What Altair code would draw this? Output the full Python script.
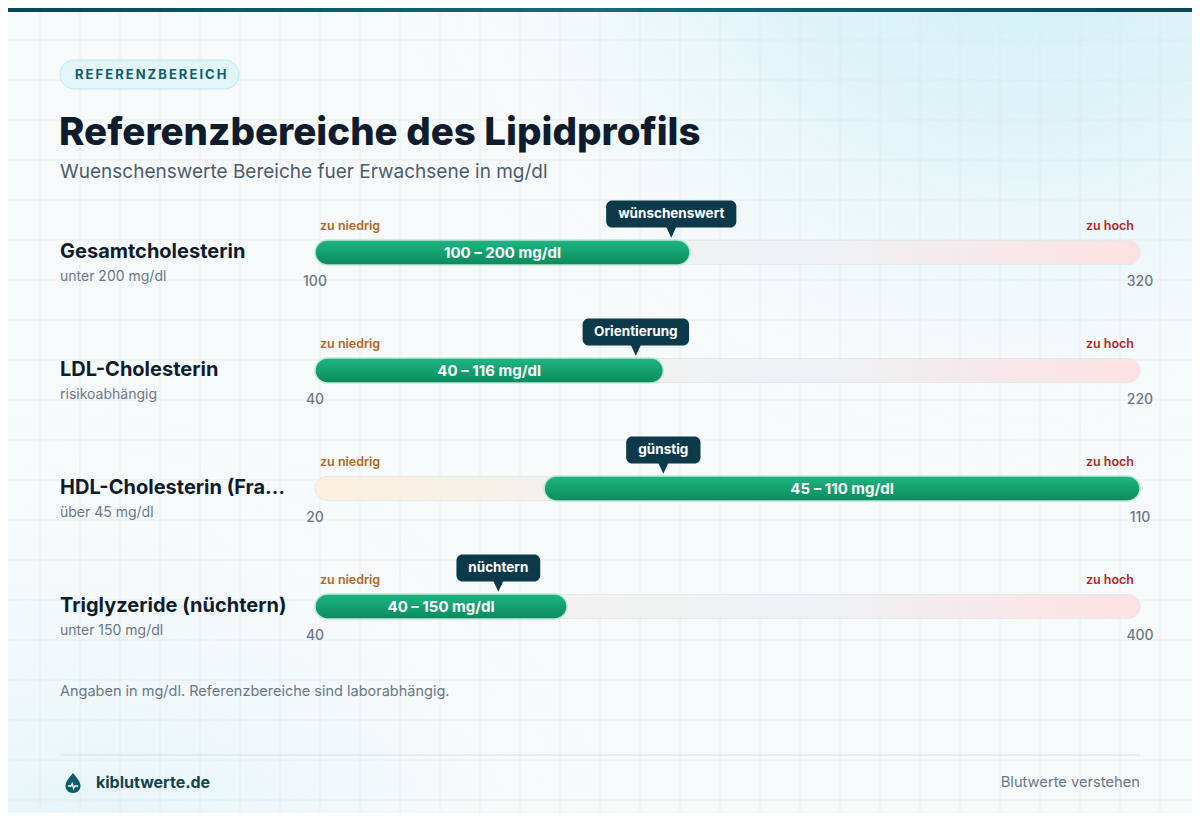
import altair as alt
import pandas as pd

# Werte aus dem Bild
metrics = ["Gesamtcholesterin", "LDL-Cholesterin", "HDL-Cholesterin (Frauen)", "Triglyzeride (nüchtern)"]
notes = ["unter 200 mg/dl", "risikoabhängig", "über 45 mg/dl", "unter 150 mg/dl"]
scale_min = [100, 40, 20, 40]
scale_max = [320, 220, 110, 400]
ok_low = [100, 40, 45, 40]
ok_high = [200, 116, 110, 150]
badges = ["wünschenswert", "Orientierung", "günstig", "nüchtern"]
badge_at = [195, 110, 58, 120]

FONT = "Inter"
W, H = 1184, 805
TRACK = [307, 1132]
TRACK_W = TRACK[1] - TRACK[0]
INK = "#0f1c2e"
MUTED = "#6b7785"
BADGE = "#0d3a4a"


def text_width(s, size):
    w = 0
    for ch in s:
        if ch in "il":
            w += 0.28
        elif ch in "jtfr":
            w += 0.4
        elif ch in "mw":
            w += 0.85
        elif ch.isupper():
            w += 0.72
        else:
            w += 0.58
    return w * size


df = pd.DataFrame({
    "metric": metrics, "note": notes,
    "scale_min": scale_min, "scale_max": scale_max,
    "ok_low": ok_low, "ok_high": ok_high,
    "badge": badges, "badge_at": badge_at,
})
df["badge_w"] = [text_width(b, 13.5) + 26 for b in badges]

rows = alt.Chart(df).transform_calculate(
    span="datum.scale_max - datum.scale_min",
    t_lo="(datum.ok_low - datum.scale_min) / datum.span",
    t_hi="(datum.ok_high - datum.scale_min) / datum.span",
    t_mid="(datum.t_lo + datum.t_hi) / 2",
    t_badge="(datum.badge_at - datum.scale_min) / datum.span",
    bx1=f"datum.t_badge - datum.badge_w / {2 * TRACK_W}",
    bx2=f"datum.t_badge + datum.badge_w / {2 * TRACK_W}",
    t_start="0",
    t_end="1",
    range_label="datum.ok_low + ' – ' + datum.ok_high + ' mg/dl'",
)

xs = alt.Scale(domain=[0, 1], range=TRACK)
ys = alt.Scale(type="point", domain=metrics, range=[244.5, 598.5], padding=0)


def X(f):
    return alt.X(f"{f}:Q", scale=xs, axis=None)


Y = alt.Y("metric:N", scale=ys, axis=None)

one = pd.DataFrame({"k": [0]})


def txt(text, x, y, size, color, weight="normal", align="left", baseline="middle"):
    return alt.Chart(one).mark_text(
        text=text, align=align, baseline=baseline, font=FONT,
        fontSize=size, fontWeight=weight, color=color,
    ).encode(x=alt.value(x), y=alt.value(y))


# Hintergrund
glow_top = alt.Chart(one).mark_rect(
    fill=alt.RadialGradient(
        gradient="radial", x1=0.86, y1=0.0, r1=0, x2=0.86, y2=0.0, r2=0.55,
        stops=[alt.GradientStop(offset=0, color="rgba(190,235,245,1)"),
               alt.GradientStop(offset=0.5, color="rgba(210,241,248,0.6)"),
               alt.GradientStop(offset=1, color="rgba(247,250,251,0)")],
    )
).encode(x=alt.value(0), x2=alt.value(W), y=alt.value(0), y2=alt.value(H))

glow_bottom = alt.Chart(one).mark_rect(
    fill=alt.RadialGradient(
        gradient="radial", x1=0.04, y1=1.0, r1=0, x2=0.04, y2=1.0, r2=0.5,
        stops=[alt.GradientStop(offset=0, color="rgba(210,240,247,0.95)"),
               alt.GradientStop(offset=1, color="rgba(247,250,251,0)")],
    )
).encode(x=alt.value(0), x2=alt.value(W), y=alt.value(0), y2=alt.value(H))

grid_v = alt.Chart(alt.sequence(32, W + 1, 40, as_="gx")).mark_rule(
    color="#dfe8ec", strokeWidth=1, opacity=0.55
).encode(x=alt.X("gx:Q", scale=None), y=alt.value(0), y2=alt.value(H))

grid_h = alt.Chart(alt.sequence(32, H + 1, 40, as_="gy")).mark_rule(
    color="#dfe8ec", strokeWidth=1, opacity=0.55
).encode(y=alt.Y("gy:Q", scale=None), x=alt.value(0), x2=alt.value(W))

top_bar = alt.Chart(one).mark_rect(
    fill=alt.LinearGradient(
        gradient="linear", x1=0, x2=1, y1=0, y2=0,
        stops=[alt.GradientStop(offset=0, color="#0b4657"),
               alt.GradientStop(offset=0.5, color="#0f6b80"),
               alt.GradientStop(offset=1, color="#0b4657")],
    )
).encode(x=alt.value(0), x2=alt.value(W), y=alt.value(0), y2=alt.value(4))

# Kopf
pill = alt.Chart(one).mark_rect(
    cornerRadius=14.5, fill="#e2f5f9", stroke="#bde7f0", strokeWidth=1
).encode(x=alt.value(52), x2=alt.value(231), y=alt.value(52), y2=alt.value(81))
pill_text = txt("\u200a\u200a".join("REFERENZBEREICH"), 67, 67, 13, "#115c6c", weight="bold")
title = txt("Referenzbereiche des Lipidprofils", 51, 137, 38.5, INK, weight=800, baseline="alphabetic")
subtitle = txt("Wuenschenswerte Bereiche fuer Erwachsene in mg/dl", 52, 164, 19, "#4d5c6b")

# Zeilen
track = rows.mark_bar(
    height=24, cornerRadius=12, strokeWidth=1, stroke="#e3e8ec",
    fill=alt.LinearGradient(
        gradient="linear", x1=0, x2=1, y1=0, y2=0,
        stops=[alt.GradientStop(offset=0, color="#fcefdc"),
               alt.GradientStop(offset=0.35, color="#f1f2f1"),
               alt.GradientStop(offset=0.6, color="#eef2f5"),
               alt.GradientStop(offset=1, color="#fde1e2")],
    ),
).encode(x=X("t_start"), x2="t_end", y=Y)

ok_bar = rows.mark_bar(
    height=25, cornerRadius=12.5, strokeWidth=1.5, stroke="#bfe8d4",
    fill=alt.LinearGradient(
        gradient="linear", x1=0, x2=0, y1=0, y2=1,
        stops=[alt.GradientStop(offset=0, color="#1db682"),
               alt.GradientStop(offset=1, color="#0c8a5d")],
    ),
).encode(x=X("t_lo"), x2="t_hi", y=Y)

ok_text = rows.mark_text(
    font=FONT, fontSize=15, fontWeight="bold", color="white", baseline="middle", dy=0.5
).encode(x=X("t_mid"), y=Y, text="range_label:N")

low_text = rows.mark_text(
    text="zu niedrig", font=FONT, fontSize=12.5, fontWeight=600, color="#b4661f",
    align="left", baseline="middle", dx=5, dy=-26.5,
).encode(x=X("t_start"), y=Y)

high_text = rows.mark_text(
    text="zu hoch", font=FONT, fontSize=12.5, fontWeight=600, color="#b42525",
    align="right", baseline="middle", dx=-6, dy=-26.5,
).encode(x=X("t_end"), y=Y)

min_text = rows.mark_text(
    font=FONT, fontSize=14, fontWeight=500, color=MUTED, align="center", baseline="middle", dy=29
).encode(x=X("t_start"), y=Y, text="scale_min:N")

max_text = rows.mark_text(
    font=FONT, fontSize=14, fontWeight=500, color=MUTED, align="center", baseline="middle", dy=29
).encode(x=X("t_end"), y=Y, text="scale_max:N")

name_text = rows.mark_text(
    font=FONT, fontSize=20, fontWeight="bold", color=INK, align="left", baseline="middle",
    limit=228, dy=-0.5,
).encode(x=alt.value(52), y=Y, text="metric:N")

note_text = rows.mark_text(
    font=FONT, fontSize=14, color=MUTED, align="left", baseline="middle", dy=24.5
).encode(x=alt.value(52), y=Y, text="note:N")

badge_box = rows.mark_bar(
    height=27, cornerRadius=6, color=BADGE, yOffset=-38.5
).encode(x=X("bx1"), x2="bx2", y=Y)

badge_tip = rows.mark_point(
    shape="M-0.7,-1L0.7,-1L0,0.5Z", size=225, filled=True, opacity=1, color=BADGE, yOffset=-18.5
).encode(x=X("t_badge"), y=Y)

badge_text = rows.mark_text(
    font=FONT, fontSize=13.5, fontWeight="bold", color="white", baseline="middle", dy=-38.5
).encode(x=X("t_badge"), y=Y, text="badge:N")

# Fuss
foot_note = txt("Angaben in mg/dl. Referenzbereiche sind laborabhängig.", 52, 684, 14.5, MUTED)
sep = alt.Chart(one).mark_rule(color="#e0e7ec", strokeWidth=1.5).encode(
    x=alt.value(52), x2=alt.value(1132), y=alt.value(747)
)
drop = alt.Chart(one).mark_point(
    shape="M0,-1C0.3,-0.6 0.75,-0.2 0.75,0.3C0.75,0.72 0.42,1 0,1C-0.42,1 -0.75,0.72 -0.75,0.3C-0.75,-0.2 -0.3,-0.6 0,-1Z",
    size=400, filled=True, opacity=1, color="#0e5a6e",
).encode(x=alt.value(65), y=alt.value(775))
pulse = alt.Chart(one).mark_point(
    shape="M-0.5,0.3L-0.2,0.3L-0.08,0.05L0.06,0.55L0.16,0.3L0.5,0.3",
    size=400, filled=False, opacity=1, color="white", strokeWidth=1.3,
).encode(x=alt.value(65), y=alt.value(775))
brand = txt("kiblutwerte.de", 88, 775, 16, "#12434f", weight="bold")
tagline = txt("Blutwerte verstehen", 1132, 775, 14.7, MUTED, align="right")

chart = alt.layer(
    glow_top, glow_bottom, grid_v, grid_h, top_bar,
    pill, pill_text, title, subtitle,
    track, ok_bar, ok_text, low_text, high_text, min_text, max_text,
    name_text, note_text, badge_box, badge_tip, badge_text,
    foot_note, sep, drop, pulse, brand, tagline,
).resolve_scale(
    x="independent", y="independent"
).properties(
    width=W, height=H, padding=0, background="#f7fafb",
    autosize=alt.AutoSizeParams(type="none"),
).configure_view(stroke=None)

chart.save("out.html", embed_options={"renderer": "svg", "actions": False})
